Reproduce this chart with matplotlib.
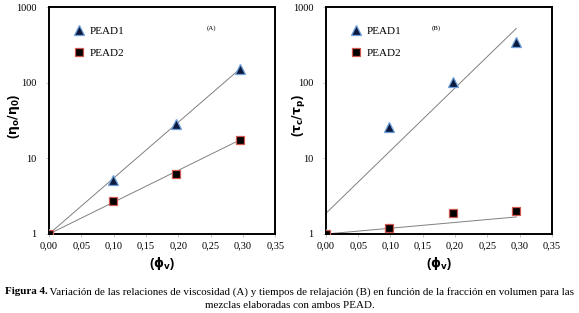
import numpy as np
import matplotlib
matplotlib.use("Agg")
import matplotlib.pyplot as plt
from matplotlib.ticker import FixedLocator, NullLocator

# Panel A: viscosity ratio vs volume fraction
phi_a1 = [0.0, 0.099, 0.196, 0.295]
visc_pead1 = [1.0, 5.2, 28.4, 151.0]
phi_a2 = [0.0, 0.099, 0.196, 0.295]
visc_pead2 = [1.0, 2.75, 6.25, 17.5]

# Panel B: relaxation time ratio vs volume fraction
phi_b1 = [0.0, 0.098, 0.197, 0.295]
relax_pead1 = [1.0, 26.0, 102.0, 345.0]
phi_b2 = [0.0, 0.098, 0.197, 0.295]
relax_pead2 = [1.0, 1.2, 1.88, 2.0]

# exponential trendlines: y = a * 10**(b * phi)
trend_a1 = (1.0, 7.39)
trend_a2 = (1.0, 4.21)
trend_b1 = (1.88, 8.28)
trend_b2 = (1.0, 0.764)

x_ticks = [0.0, 0.05, 0.10, 0.15, 0.20, 0.25, 0.30, 0.35]
x_ticklabels = ["0,00", "0,05", "0,10", "0,15", "0,20", "0,25", "0,30", "0,35"]
y_ticks = [1, 10, 100, 1000]
y_ticklabels = ["1", "10", "100", "1000"]

SERIF = "Liberation Serif"
SANS = "Liberation Sans"

fig = plt.figure(figsize=(5.79, 3.13), dpi=100)
ax_a = fig.add_axes([0.0846, 0.2524, 0.391, 0.7252])
ax_b = fig.add_axes([0.563, 0.2524, 0.390, 0.7252])


def trend(ax, x, coef):
    a, b = coef
    xs = np.array([min(x), max(x)])
    ax.plot(xs, a * 10 ** (b * xs), color="#808080", lw=0.7, zorder=2)


def scatter(ax, x, y, kind, label):
    if kind == "tri":
        ax.plot(x, y, ls="none", marker="^", ms=6.5, mfc="#0d1a40",
                mec="#6f9fd8", mew=0.9, label=label, zorder=3)
    else:
        ax.plot(x, y, ls="none", marker="s", ms=5.5, mfc="black",
                mec="#d0584f", mew=0.9, label=label, zorder=3)


def style(ax, ylabel, tag, tag_x, ylabel_x):
    ax.set_yscale("log")
    ax.set_xlim(0, 0.35)
    ax.set_ylim(1, 1000)
    ax.xaxis.set_major_locator(FixedLocator(x_ticks))
    ax.set_xticklabels(x_ticklabels)
    ax.yaxis.set_major_locator(FixedLocator(y_ticks))
    ax.yaxis.set_minor_locator(NullLocator())
    ax.set_yticklabels(y_ticklabels)
    for lab in ax.get_xticklabels() + ax.get_yticklabels():
        lab.set_fontfamily(SERIF)
        lab.set_fontsize(7.5)
    ax.tick_params(length=2, width=0.5, color="#aaaaaa")
    ax.tick_params(axis="x", pad=3)
    ax.tick_params(axis="y", pad=7)
    for sp in ax.spines.values():
        sp.set_linewidth(1.4)
    ax.set_xlabel("($\\mathbf{\\phi_v}$)", fontsize=9, fontweight="bold",
                  family=SANS, labelpad=4)
    ax.set_ylabel(ylabel, fontsize=9, fontweight="bold", family=SANS)
    ax.yaxis.set_label_coords(ylabel_x, 0.52)
    ax.text(tag_x, 0.905, tag, transform=ax.transAxes, fontsize=5,
            family=SERIF, ha="center", va="center")
    ax.legend(loc="upper left", bbox_to_anchor=(0.06, 0.96),
              frameon=False, prop={"family": SERIF, "size": 8},
              handletextpad=0.3, labelspacing=1.1, handlelength=1.2)


trend(ax_a, phi_a1, trend_a1)
trend(ax_a, phi_a2, trend_a2)
scatter(ax_a, phi_a1, visc_pead1, "tri", "PEAD1")
scatter(ax_a, phi_a2, visc_pead2, "sq", "PEAD2")
style(ax_a, "($\\mathbf{\\eta_o/\\eta_0}$)", "(A)", 0.72, -0.12)

trend(ax_b, phi_b1, trend_b1)
trend(ax_b, phi_b2, trend_b2)
scatter(ax_b, phi_b1, relax_pead1, "tri", "PEAD1")
scatter(ax_b, phi_b2, relax_pead2, "sq", "PEAD2")
style(ax_b, "($\\mathbf{\\tau_c/\\tau_p}$)", "(B)", 0.49, -0.085)

# caption: bold lead-in + regular text, centred together
cap_bold = "Figura 4."
cap1 = " Variación de las relaciones de viscosidad (A) y tiempos de relajación (B) en función de la fracción en volumen para las"
cap2 = "mezclas elaboradas con ambos PEAD."
cap_size = 7.95
y1 = 1 - 292 / 313
y2 = 1 - 305 / 313
t_b = fig.text(0, y1, cap_bold, ha="left", va="center", fontsize=cap_size,
               family=SERIF, fontweight="bold")
t_r = fig.text(0, y1, cap1, ha="left", va="center", fontsize=cap_size,
               family=SERIF)
r = fig.canvas.get_renderer()
wb = t_b.get_window_extent(r).width
wr = t_r.get_window_extent(r).width
W = fig.bbox.width
x0 = (W - wb - wr) / 2
t_b.set_x(x0 / W)
t_r.set_x((x0 + wb) / W)
fig.text(0.5, y2, cap2, ha="center", va="center", fontsize=cap_size,
         family=SERIF)

fig.savefig("out.png", dpi=100)
